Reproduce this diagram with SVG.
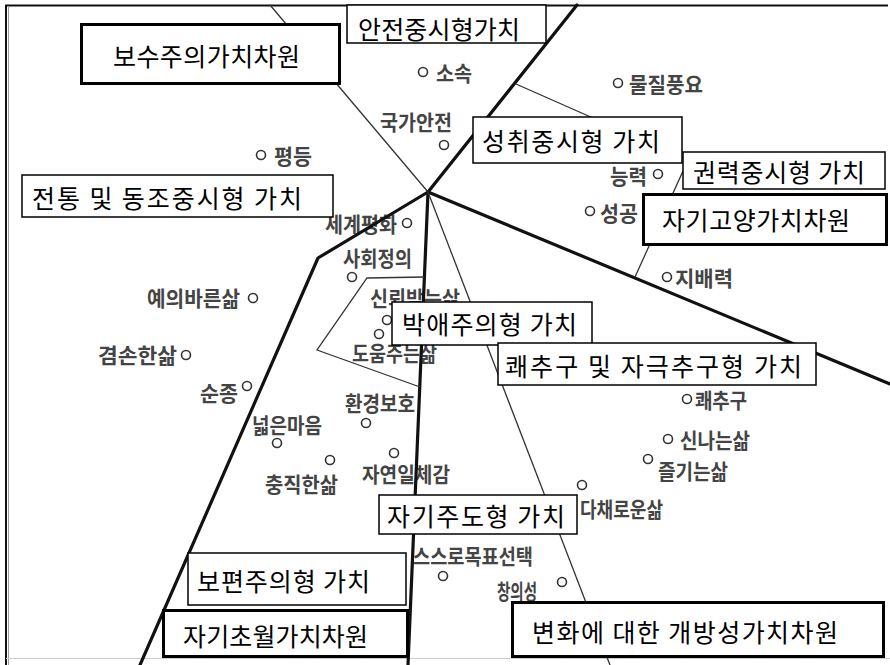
<svg xmlns="http://www.w3.org/2000/svg" width="890" height="665" viewBox="0 0 890 665">
<style>
.bx rect{fill:#fff;stroke:#000}
.thin rect{stroke-width:1.5}
.thick rect{stroke-width:3}
.bx text{font-family:"Noto Sans CJK KR","Noto Sans",sans-serif;font-size:25px;fill:#000;dominant-baseline:central}
.it text{font-family:"Noto Sans CJK KR","Noto Sans",sans-serif;font-size:21px;font-weight:bold;fill:#444;dominant-baseline:central}
.it circle{fill:#fff;stroke:#333;stroke-width:1.6}
.th{stroke:#111;stroke-width:3.2;fill:none;stroke-linejoin:round;stroke-linecap:round}
.tn{stroke:#333;stroke-width:1.3;fill:none}
</style>
<rect x="0" y="0" width="890" height="665" fill="#fff"/>
<g id="frame">
<line x1="5" y1="5.5" x2="888" y2="5.5" stroke="#111" stroke-width="2"/>
<line x1="6" y1="5" x2="6" y2="665" stroke="#111" stroke-width="2"/>
<line x1="8.5" y1="6" x2="8.5" y2="665" stroke="#999" stroke-width="1"/>
<line x1="6" y1="658.5" x2="890" y2="658.5" stroke="#ccc" stroke-width="1"/>
</g>
<g id="items">
<g id="i-sosok" class="it"><circle cx="423" cy="72" r="4.5"/><text x="436" y="72" textLength="36" lengthAdjust="spacingAndGlyphs">소속</text></g>
<g id="i-gukga" class="it"><circle cx="444" cy="145" r="4.5"/><text x="380" y="121" textLength="72" lengthAdjust="spacingAndGlyphs">국가안전</text></g>
<g id="i-muljil" class="it"><circle cx="618" cy="83" r="4.5"/><text x="629" y="83" textLength="74" lengthAdjust="spacingAndGlyphs">물질풍요</text></g>
<g id="i-pyeong" class="it"><circle cx="261" cy="155" r="4.5"/><text x="274" y="155" textLength="38" lengthAdjust="spacingAndGlyphs">평등</text></g>
<g id="i-neung" class="it"><circle cx="658" cy="174" r="4.5"/><text x="610" y="175" textLength="37" lengthAdjust="spacingAndGlyphs">능력</text></g>
<g id="i-seong" class="it"><circle cx="590" cy="211" r="4.5"/><text x="600" y="212" textLength="38" lengthAdjust="spacingAndGlyphs">성공</text></g>
<g id="i-segye" class="it"><circle cx="407" cy="223" r="4.5"/><text x="325" y="223" textLength="72" lengthAdjust="spacingAndGlyphs">세계평화</text></g>
<g id="i-sahoe" class="it"><circle cx="352" cy="277" r="4.5"/><text x="343" y="257" textLength="69" lengthAdjust="spacingAndGlyphs">사회정의</text></g>
<g id="i-sinroe" class="it"><circle cx="387" cy="320" r="4.5"/><text x="370" y="297" textLength="90" lengthAdjust="spacingAndGlyphs">신뢰받는삶</text></g>
<g id="i-doum" class="it"><circle cx="379" cy="334" r="4.5"/><text x="352" y="352" textLength="85" lengthAdjust="spacingAndGlyphs">도움주는삶</text></g>
<g id="i-hwan" class="it"><circle cx="366" cy="423" r="4.5"/><text x="345" y="402" textLength="70" lengthAdjust="spacingAndGlyphs">환경보호</text></g>
<g id="i-neolb" class="it"><circle cx="277" cy="443" r="4.5"/><text x="252" y="424" textLength="70" lengthAdjust="spacingAndGlyphs">넓은마음</text></g>
<g id="i-chung" class="it"><circle cx="330" cy="460" r="4.5"/><text x="265" y="483" textLength="73" lengthAdjust="spacingAndGlyphs">충직한삶</text></g>
<g id="i-jayeon" class="it"><circle cx="394" cy="453" r="4.5"/><text x="362" y="473" textLength="88" lengthAdjust="spacingAndGlyphs">자연일체감</text></g>
<g id="i-yeui" class="it"><circle cx="253" cy="298" r="4.5"/><text x="147" y="297" textLength="93" lengthAdjust="spacingAndGlyphs">예의바른삶</text></g>
<g id="i-gyeom" class="it"><circle cx="186" cy="355" r="4.5"/><text x="98" y="354" textLength="79" lengthAdjust="spacingAndGlyphs">겸손한삶</text></g>
<g id="i-sunjong" class="it"><circle cx="247" cy="386" r="4.5"/><text x="200" y="392" textLength="38" lengthAdjust="spacingAndGlyphs">순종</text></g>
<g id="i-jibae" class="it"><circle cx="667" cy="277" r="4.5"/><text x="675" y="277" textLength="58" lengthAdjust="spacingAndGlyphs">지배력</text></g>
<g id="i-kwae" class="it"><circle cx="687" cy="399" r="4.5"/><text x="695" y="399" textLength="52" lengthAdjust="spacingAndGlyphs">쾌추구</text></g>
<g id="i-sinna" class="it"><circle cx="668" cy="439" r="4.5"/><text x="680" y="439" textLength="70" lengthAdjust="spacingAndGlyphs">신나는삶</text></g>
<g id="i-jeul" class="it"><circle cx="648" cy="459" r="4.5"/><text x="658" y="470" textLength="70" lengthAdjust="spacingAndGlyphs">즐기는삶</text></g>
<g id="i-dachae" class="it"><circle cx="582" cy="485" r="4.5"/><text x="580" y="508" textLength="83" lengthAdjust="spacingAndGlyphs">다채로운삶</text></g>
<g id="i-seuseuro" class="it"><circle cx="443" cy="576" r="4.5"/><text x="413" y="555" textLength="120" lengthAdjust="spacingAndGlyphs">스스로목표선택</text></g>
<g id="i-changui" class="it"><circle cx="562" cy="582" r="4.5"/><text x="497" y="590" textLength="40" lengthAdjust="spacingAndGlyphs">창의성</text></g>
</g>
<g id="connectors">
<polyline class="th" points="577,5 428,192 890,384"/>
<polyline class="th" points="428,192 318,258 140,665"/>
<line class="th" x1="428" y1="192" x2="408" y2="665"/>
<line class="tn" x1="270" y1="5" x2="428" y2="192"/>
<line class="tn" x1="428" y1="192" x2="610" y2="665"/>
<polyline class="tn" points="516,84 688,160 635,277"/>
<polyline class="tn" points="424,277 367,278 317,350 420,387"/>
</g>
<g id="b-anjeon" class="bx thin"><rect x="347" y="5" width="199" height="38"/><text x="358" y="28" textLength="162" lengthAdjust="spacing">안전중시형가치</text></g>
<g id="b-bosu" class="bx thick"><rect x="81.5" y="24.5" width="258" height="59"/><text x="113" y="55" textLength="187" lengthAdjust="spacing">보수주의가치차원</text></g>
<g id="b-jeontong" class="bx thin"><rect x="22" y="175" width="311" height="42"/><text x="32" y="197" textLength="270" lengthAdjust="spacing">전통 및 동조중시형 가치</text></g>
<g id="b-seongchwi" class="bx thin"><rect x="473" y="117" width="209" height="46"/><text x="482" y="140" textLength="178" lengthAdjust="spacing">성취중시형 가치</text></g>
<g id="b-gwonryeok" class="bx thin"><rect x="683" y="152" width="202" height="37"/><text x="693" y="171" textLength="172" lengthAdjust="spacing">권력중시형 가치</text></g>
<g id="b-jagigoyang" class="bx thick"><rect x="643.5" y="194.5" width="243" height="50"/><text x="662" y="219" textLength="188" lengthAdjust="spacing">자기고양가치차원</text></g>
<g id="b-bakae" class="bx thin"><rect x="392" y="302" width="200" height="43"/><text x="402" y="323" textLength="175" lengthAdjust="spacing">박애주의형 가치</text></g>
<g id="b-kwaechugu" class="bx thin"><rect x="498" y="343" width="318" height="42"/><text x="505" y="365" textLength="297" lengthAdjust="spacing">쾌추구 및 자극추구형 가치</text></g>
<g id="b-jagijudo" class="bx thin"><rect x="379" y="495" width="198" height="39"/><text x="387" y="515" textLength="178" lengthAdjust="spacing">자기주도형 가치</text></g>
<g id="b-bopyeon" class="bx thin"><rect x="188" y="553" width="218" height="52"/><text x="197" y="580" textLength="173" lengthAdjust="spacing">보편주의형 가치</text></g>
<g id="b-jagichowol" class="bx thick"><rect x="163.5" y="610.5" width="244" height="46"/><text x="183" y="635" textLength="185" lengthAdjust="spacing">자기초월가치차원</text></g>
<g id="b-byeonhwa" class="bx thick"><rect x="512.5" y="602.5" width="371" height="54"/><text x="532" y="631" textLength="306" lengthAdjust="spacing">변화에 대한 개방성가치차원</text></g>
</svg>
